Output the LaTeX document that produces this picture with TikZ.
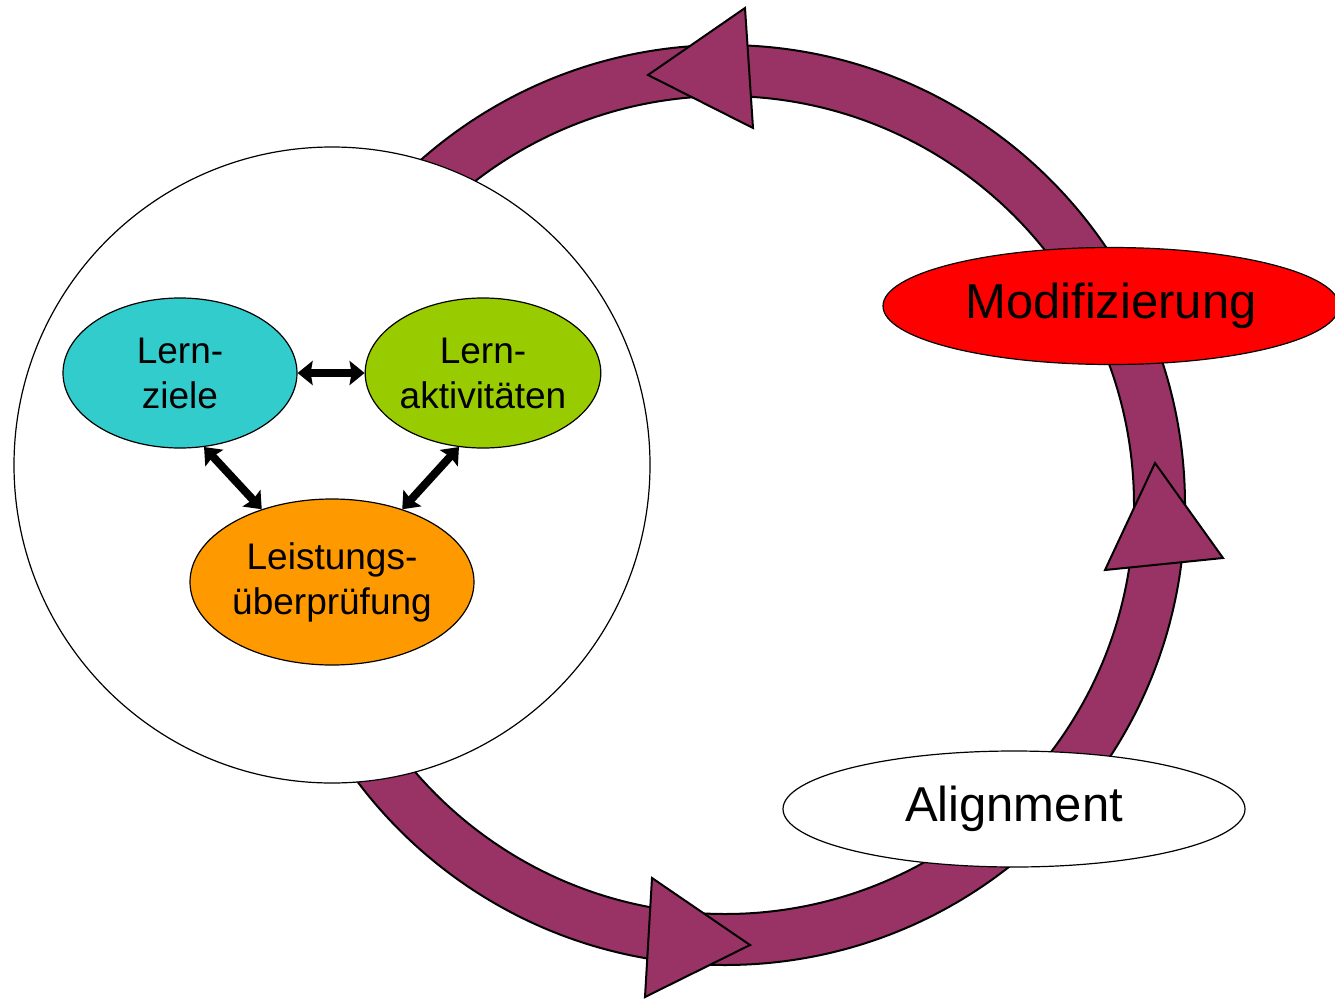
\documentclass[tikz,border=0pt]{standalone}
\usepackage{fontspec}
\setmainfont{Liberation Sans}
\usetikzlibrary{shapes.geometric,arrows.meta}
\definecolor{ringpurple}{HTML}{993366}
\definecolor{lzcyan}{HTML}{33CCCC}
\definecolor{lagreen}{HTML}{99CC00}
\definecolor{luorange}{HTML}{FF9900}
\begin{document}
\begin{tikzpicture}[x=1pt,y=-1pt,
  ell/.style={ellipse, draw=black, line width=1.2pt, inner sep=0pt, align=center},
  innerell/.style={ell, font=\fontsize{37}{45}\selectfont},
  outerell/.style={ell, font=\fontsize{49}{57}\selectfont},
  dbl/.style={line width=8pt, {Stealth[length=15pt,width=24pt,inset=2pt]}-{Stealth[length=15pt,width=24pt,inset=2pt]}},
  ringline/.style={draw=black, line width=2pt},
  tri/.style={fill=ringpurple, draw=black, line width=2pt, line join=miter}
]
\useasboundingbox (0,0) rectangle (1335,998);
% ring
\coordinate (rc) at (725,505);
\fill[ringpurple, even odd rule] (rc) circle[radius=460pt] (rc) circle[radius=409pt];
\draw[ringline] (rc) circle[radius=460pt];
\draw[ringline] (rc) circle[radius=409pt];
% arrowheads on the ring
\coordinate (t1) at (648,75);
\coordinate (t1a) at (745,8);
\coordinate (t1b) at (753,128);
\draw[tri] (t1) -- (t1a) -- (t1b) -- cycle;
\coordinate (t2) at (1155,463);
\coordinate (t2a) at (1105,570);
\coordinate (t2b) at (1223,558);
\draw[tri] (t2) -- (t2a) -- (t2b) -- cycle;
\coordinate (t3) at (750,945);
\coordinate (t3a) at (652,878);
\coordinate (t3b) at (645,997);
\draw[tri] (t3) -- (t3a) -- (t3b) -- cycle;
% white circle
\node[circle, draw=black, fill=white, line width=1.2pt, minimum size=636pt, inner sep=0pt] (bigc) at (332,465) {};
% inner ellipses
\node[innerell, fill=lzcyan, minimum width=234pt, minimum height=150pt] (lz) at (180,373) {Lern-\\ziele};
\node[innerell, fill=lagreen, minimum width=234pt, minimum height=150pt] (la) at (483,373) {Lern-\\aktivitäten};
\node[innerell, fill=luorange, minimum width=284pt, minimum height=166pt] (lu) at (332,582) {Leistungs-\\überprüfung};
% arrows
\draw[dbl] (lz) -- (la);
\draw[dbl] (lz.-72) -- (lu.134);
\draw[dbl] (la.-108) -- (lu.46);
% outer ellipses
\node[outerell, fill=red, minimum width=456pt, minimum height=117pt] (mod) at (1111,306) {Modifizierung};
\node[outerell, fill=white, minimum width=462pt, minimum height=116pt] (ali) at (1014,809) {Alignment};
\end{tikzpicture}
\end{document}
